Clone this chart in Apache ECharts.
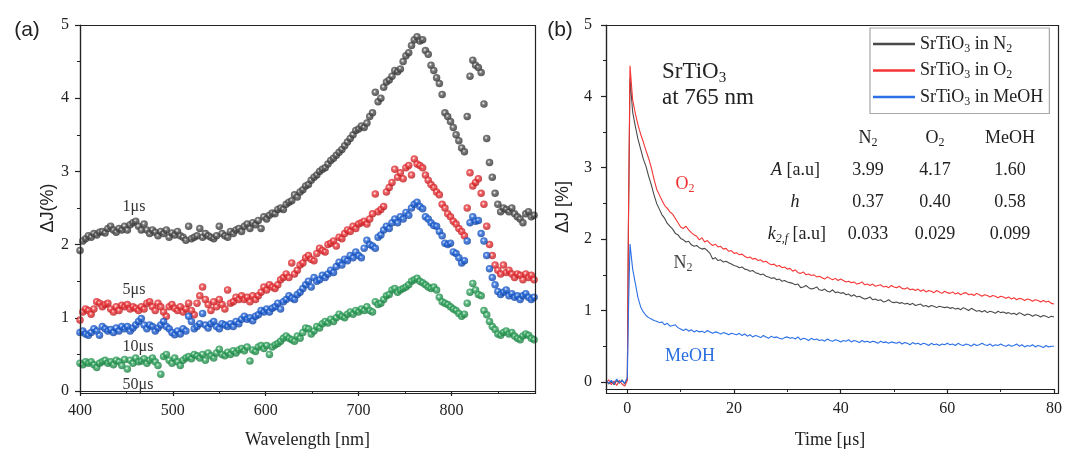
<!DOCTYPE html>
<html>
<head>
<meta charset="utf-8">
<script src="https://cdn.jsdelivr.net/npm/echarts@6/dist/echarts.min.js"></script>
<style>html,body{margin:0;padding:0;background:#fff}#c{width:1065px;height:454px}</style>
</head>
<body>
<div id="c"></div>
<script>
// ---------- Panel (a): transient absorption spectra ----------
const wavelength = [400,403,406,409,412,415,418,421,424,427,430,433,436,439,442,445,448,451,454,457,
460,463,466,469,472,475,478,481,484,487,490,493,496,499,502,505,508,511,514,517,
520,523,526,529,532,535,538,541,544,547,550,553,556,559,562,565,568,571,574,577,
580,583,586,589,592,595,598,601,604,607,610,613,616,619,622,625,628,631,634,637,
640,643,646,649,652,655,658,661,664,667,670,673,676,679,682,685,688,691,694,697,
700,703,706,709,712,715,718,721,724,727,730,733,736,739,742,745,748,751,754,757,
760,763,766,769,772,775,778,781,784,787,790,793,796,799,802,805,808,811,814,817,
820,823,826,829,832,835,838,841,844,847,850,853,856,859,862,865,868,871,874,877,
880,883,886,889];
const spec1us = [1.92,2.05,2.08,2.12,2.10,2.15,2.13,2.17,2.18,2.16,2.22,2.25,2.20,2.17,2.22,2.20,2.25,2.20,2.27,2.30,
2.32,2.25,2.20,2.28,2.20,2.15,2.20,2.17,2.12,2.18,2.15,2.20,2.10,2.16,2.13,2.18,2.12,2.10,2.06,2.25,
2.08,2.10,2.12,2.22,2.10,2.15,2.12,2.10,2.08,2.12,2.25,2.15,2.12,2.10,2.18,2.15,2.20,2.22,2.18,2.25,
2.28,2.22,2.30,2.27,2.33,2.22,2.38,2.35,2.40,2.43,2.42,2.48,2.50,2.48,2.55,2.58,2.60,2.68,2.65,2.72,
2.75,2.80,2.82,2.88,2.92,2.95,3.00,3.03,3.05,3.10,3.15,3.18,3.22,3.26,3.30,3.35,3.40,3.45,3.50,3.56,
3.58,3.62,3.60,3.66,3.75,3.80,4.08,3.95,4.00,4.15,4.22,4.25,4.30,4.38,4.36,4.40,4.50,4.58,4.62,4.72,
4.80,4.84,4.78,4.80,4.65,4.60,4.45,4.38,4.28,4.20,4.05,3.80,3.75,3.68,3.60,3.50,3.42,3.32,3.27,3.75,
4.30,4.52,4.45,4.42,4.35,3.92,3.45,3.12,2.92,2.70,2.55,2.45,2.50,2.48,2.45,2.50,2.42,2.38,2.35,2.30,
2.42,2.45,2.38,2.40];
const spec5us = [0.97,1.08,1.12,1.10,1.05,1.12,1.22,1.20,1.15,1.18,1.20,1.12,1.08,1.15,1.10,1.17,1.15,1.18,1.12,1.15,
1.13,1.10,1.15,1.12,1.20,1.22,1.15,1.10,1.20,1.15,1.08,1.02,1.15,1.18,1.13,1.10,1.15,1.08,1.12,1.20,
1.10,1.04,1.20,1.30,1.42,1.25,1.18,1.10,1.22,1.15,1.25,1.18,1.12,1.38,1.20,1.22,1.28,1.25,1.30,1.25,
1.28,1.22,1.30,1.25,1.30,1.35,1.42,1.38,1.45,1.42,1.40,1.45,1.52,1.55,1.60,1.55,1.75,1.60,1.65,1.72,
1.75,1.82,1.85,1.80,1.78,1.88,1.95,1.92,1.90,2.00,2.02,2.05,1.98,2.10,2.08,2.15,2.20,2.18,2.25,2.22,
2.28,2.30,2.32,2.28,2.35,2.42,2.69,2.45,2.48,2.52,2.72,2.78,2.85,3.03,2.92,2.98,2.90,3.05,3.08,2.95,
3.17,3.10,3.08,3.05,2.95,2.88,2.82,2.78,2.72,2.68,2.55,2.50,2.42,2.38,2.32,2.28,2.22,2.18,2.12,2.50,
2.98,2.80,2.85,2.90,2.70,2.55,2.25,2.00,1.85,1.72,1.65,1.60,1.72,1.62,1.65,1.60,1.55,1.60,1.58,1.52,
1.60,1.55,1.58,1.52];
const spec10us = [0.80,0.82,0.78,0.76,0.80,0.85,0.82,0.76,0.88,0.85,0.82,0.84,0.80,0.86,0.82,0.88,0.85,0.88,0.82,0.86,
0.90,0.95,0.99,0.90,0.85,0.90,0.88,0.82,0.86,0.90,0.95,0.88,0.85,0.80,0.77,0.82,0.78,0.85,0.82,1.02,
0.95,0.85,0.88,0.92,1.06,0.90,0.86,0.92,0.95,0.88,0.85,0.92,0.90,0.88,0.92,0.88,0.95,0.92,0.98,1.02,
0.98,1.00,0.96,1.02,1.04,1.10,1.08,1.12,1.08,1.13,1.15,1.20,1.12,1.22,1.25,1.30,1.27,1.25,1.32,1.35,
1.40,1.45,1.50,1.42,1.55,1.50,1.52,1.58,1.55,1.60,1.65,1.62,1.70,1.76,1.72,1.80,1.78,1.85,1.82,1.90,
1.85,1.82,1.95,2.06,2.00,1.98,1.95,2.10,2.13,2.20,2.25,2.22,2.30,2.35,2.30,2.38,2.35,2.44,2.40,2.50,
2.55,2.58,2.52,2.49,2.38,2.35,2.30,2.26,2.25,2.18,2.12,2.02,2.00,2.02,1.90,1.88,1.82,1.75,1.78,2.05,
2.30,2.38,2.32,2.33,2.15,2.05,1.85,1.67,1.55,1.45,1.36,1.32,1.35,1.38,1.30,1.33,1.28,1.30,1.25,1.30,
1.33,1.28,1.25,1.28];
const spec50us = [0.38,0.36,0.40,0.38,0.40,0.36,0.32,0.38,0.40,0.42,0.38,0.40,0.36,0.42,0.40,0.35,0.43,0.30,0.42,0.38,
0.45,0.40,0.41,0.44,0.38,0.42,0.45,0.40,0.35,0.23,0.47,0.50,0.42,0.38,0.45,0.40,0.35,0.42,0.45,0.47,
0.44,0.50,0.48,0.45,0.50,0.42,0.52,0.48,0.45,0.52,0.57,0.50,0.48,0.53,0.50,0.55,0.52,0.56,0.58,0.55,
0.60,0.41,0.56,0.54,0.60,0.62,0.58,0.62,0.50,0.60,0.63,0.65,0.68,0.72,0.75,0.72,0.70,0.68,0.75,0.72,
0.80,0.86,0.85,0.78,0.82,0.88,0.86,0.92,0.95,0.93,0.98,0.95,1.00,1.05,1.02,1.00,1.05,1.08,1.05,1.10,
1.08,1.12,1.10,1.15,1.10,1.08,1.22,1.18,1.20,1.25,1.30,1.32,1.38,1.40,1.35,1.38,1.40,1.42,1.45,1.50,
1.52,1.54,1.50,1.48,1.45,1.42,1.40,1.42,1.38,1.28,1.22,1.20,1.18,1.15,1.12,1.10,1.06,1.02,1.05,1.20,
1.35,1.47,1.38,1.32,1.30,1.10,1.04,0.95,0.88,0.84,0.78,0.76,0.80,0.82,0.78,0.80,0.75,0.72,0.70,0.75,
0.78,0.76,0.72,0.70];
const wlTicks = [400,500,600,700,800];
const wlMinor = [450,550,650,750,850];

// ---------- Panel (b): kinetics at 765 nm ----------
const time = [-4,-3.5,-3,-2.5,-2,-1.5,-1,-0.5,0,0.2,0.5,
1,1.5,2,2.5,3,3.5,4,4.5,5,5.5,6,6.5,7,7.5,8,8.5,9,9.5,10,
10.5,11,11.5,12,12.5,13,13.5,14,14.5,15,15.5,16,16.5,17,17.5,18,18.5,19,19.5,20,
20.5,21,21.5,22,22.5,23,23.5,24,24.5,25,25.5,26,26.5,27,27.5,28,28.5,29,29.5,30,
30.5,31,31.5,32,32.5,33,33.5,34,34.5,35,35.5,36,36.5,37,37.5,38,38.5,39,39.5,40,
40.5,41,41.5,42,42.5,43,43.5,44,44.5,45,45.5,46,46.5,47,47.5,48,48.5,49,49.5,50,
50.5,51,51.5,52,52.5,53,53.5,54,54.5,55,55.5,56,56.5,57,57.5,58,58.5,59,59.5,60,
60.5,61,61.5,62,62.5,63,63.5,64,64.5,65,65.5,66,66.5,67,67.5,68,68.5,69,69.5,70,
70.5,71,71.5,72,72.5,73,73.5,74,74.5,75,75.5,76,76.5,77,77.5,78,78.5,79,79.5,80];
const kinN2 = [0.02,-0.03,0.01,-0.04,0.02,-0.02,0.03,-0.03,0.04,2.1,4.25,
3.78,3.58,3.4,3.26,3.12,3.02,2.88,2.76,2.62,2.5,2.42,2.34,2.29,2.22,2.18,2.14,2.08,2.06,2.01,
1.99,1.96,1.97,1.92,1.9,1.91,1.88,1.86,1.87,1.84,1.8,1.72,1.74,1.7,1.71,1.68,1.69,1.67,1.65,1.63,
1.62,1.6,1.61,1.58,1.57,1.55,1.56,1.53,1.52,1.5,1.51,1.48,1.47,1.45,1.46,1.43,1.44,1.41,1.42,1.4,
1.39,1.38,1.36,1.37,1.32,1.33,1.35,1.32,1.3,1.31,1.33,1.29,1.28,1.3,1.27,1.26,1.29,1.25,1.26,1.24,
1.25,1.22,1.23,1.2,1.22,1.19,1.2,1.18,1.16,1.17,1.19,1.15,1.16,1.14,1.15,1.12,1.13,1.15,1.12,1.11,
1.12,1.1,1.11,1.09,1.1,1.08,1.1,1.07,1.08,1.09,1.06,1.07,1.05,1.07,1.06,1.04,1.06,1.05,1.04,1.05,
1.03,1.04,1.02,1.03,1.01,1.04,1.02,1.0,1.03,1.01,0.99,1.0,0.98,1.0,0.97,0.99,0.98,0.96,0.99,0.97,
0.98,0.96,0.97,0.95,0.96,0.94,0.97,0.95,0.93,0.95,0.94,0.92,0.94,0.93,0.91,0.93,0.92,0.9,0.92,0.91];
const kinO2 = [-0.02,0.03,-0.04,0.01,-0.05,0.02,-0.03,-0.06,0.02,2.2,4.43,
3.95,3.76,3.6,3.47,3.36,3.24,3.13,3.0,2.84,2.7,2.62,2.54,2.47,2.43,2.38,2.35,2.29,2.23,2.17,
2.15,2.18,2.13,2.09,2.06,2.04,1.99,2.02,1.96,1.98,1.94,1.91,1.93,1.89,1.9,1.86,1.87,1.83,1.84,1.8,
1.81,1.78,1.79,1.76,1.74,1.75,1.72,1.73,1.7,1.71,1.68,1.69,1.66,1.64,1.65,1.62,1.63,1.6,1.61,1.58,
1.59,1.55,1.57,1.53,1.52,1.54,1.5,1.51,1.49,1.5,1.47,1.48,1.46,1.44,1.47,1.45,1.43,1.45,1.42,1.44,
1.42,1.4,1.41,1.39,1.4,1.37,1.38,1.4,1.36,1.37,1.35,1.37,1.34,1.35,1.36,1.33,1.34,1.32,1.35,1.33,
1.32,1.34,1.31,1.3,1.32,1.29,1.3,1.28,1.3,1.27,1.29,1.26,1.28,1.27,1.25,1.28,1.26,1.24,1.27,1.25,
1.24,1.26,1.23,1.25,1.22,1.24,1.25,1.22,1.23,1.21,1.24,1.22,1.2,1.22,1.21,1.19,1.21,1.2,1.18,1.2,
1.19,1.17,1.19,1.16,1.18,1.15,1.17,1.16,1.14,1.16,1.15,1.13,1.15,1.14,1.12,1.14,1.12,1.13,1.1,1.09];
const kinMeOH = [0.03,-0.02,0.02,-0.03,0.04,-0.01,0.02,-0.02,0.06,0.95,1.93,
1.58,1.38,1.18,1.05,0.98,0.93,0.9,0.88,0.86,0.85,0.83,0.84,0.8,0.82,0.78,0.79,0.8,0.76,0.74,
0.72,0.74,0.71,0.73,0.7,0.72,0.7,0.71,0.69,0.72,0.7,0.68,0.7,0.69,0.67,0.69,0.68,0.66,0.68,0.67,
0.66,0.68,0.65,0.67,0.64,0.66,0.63,0.65,0.64,0.62,0.65,0.63,0.61,0.64,0.62,0.63,0.61,0.6,0.62,0.63,
0.61,0.62,0.6,0.63,0.59,0.61,0.6,0.58,0.61,0.59,0.6,0.58,0.59,0.57,0.6,0.58,0.57,0.59,0.58,0.56,
0.58,0.57,0.59,0.56,0.58,0.57,0.55,0.58,0.56,0.57,0.55,0.57,0.56,0.54,0.57,0.55,0.56,0.54,0.56,0.55,
0.54,0.56,0.53,0.55,0.54,0.52,0.55,0.53,0.54,0.52,0.54,0.53,0.51,0.54,0.52,0.53,0.51,0.53,0.52,0.54,
0.52,0.53,0.51,0.54,0.52,0.51,0.53,0.52,0.5,0.53,0.51,0.52,0.54,0.52,0.51,0.53,0.5,0.52,0.51,0.53,
0.51,0.5,0.52,0.5,0.51,0.53,0.5,0.52,0.49,0.51,0.5,0.52,0.49,0.51,0.5,0.48,0.51,0.49,0.5,0.5];
const timeTicks = [0,20,40,60,80];
const timeMinor = [10,30,50,70];
const yTicksB = [0,1,2,3,4,5];
const yMinorB = [0.5,1.5,2.5,3.5,4.5];

// fit table
const tableCols = ['N{s|2}','O{s|2}','MeOH'];
const tableRows = ['{i|A} [a.u]','{i|h}','{i|k}{si|2,f} [a.u]'];
const tableVals = [['3.99','4.17','1.60'],['0.37','0.40','0.58'],['0.033','0.029','0.099']];

const SERIF = 'Liberation Serif';
const SANS = 'Liberation Sans';
const AX = '#222';

const pairs = (xs, ys) => xs.map((x, i) => [x, ys[i]]);
function ball(c, dark) {
  return {type:'radial', x:0.42, y:0.4, r:0.6,
    colorStops:[{offset:0,color:'#ffffff'},{offset:0.35,color:c},{offset:1,color:dark}]};
}
const subRich = {
  s:{fontFamily:SERIF, fontSize:12, fill:'#222', padding:[9,0,0,0]},
  i:{fontFamily:SERIF, fontSize:18, fill:'#222', fontStyle:'italic'},
  si:{fontFamily:SERIF, fontStyle:'italic', fontSize:12, fill:'#222', padding:[9,0,0,0]}
};

function axisBase(extra) {
  return Object.assign({
    type:'value',
    axisLine:{show:true, onZero:false, lineStyle:{color:AX, width:1.2}},
    splitLine:{show:false},
    axisLabel:{fontFamily:SERIF, fontSize:16, color:AX},
    axisTick:{show:true, length:5, lineStyle:{color:AX, width:1.2}}
  }, extra);
}
function minorAxis(extra, vals) {
  return Object.assign({
    type:'value',
    axisLine:{show:false, onZero:false},
    splitLine:{show:false},
    axisLabel:{show:false},
    axisTick:{show:true, length:3, lineStyle:{color:AX, width:1}, customValues:vals}
  }, extra);
}

const chart = echarts.init(document.getElementById('c'), null, {renderer:'canvas'});

// plot frames (the boxes around both panels)
const gridA = {left:80, top:25, width:455, height:368};
const gridB = {left:606, top:25, width:452, height:368};
const graphics = [gridA, gridB].map(g => ({
  type:'rect', z:90, silent:true,
  shape:{x:g.left + 0.5, y:g.top + 0.5, width:g.width, height:g.height},
  style:{fill:'none', stroke:AX, lineWidth:1.2}
}));
function txt(x, y, text, opt) {
  graphics.push({type:'text', x:x, y:y, z:100, style:Object.assign({
    text:text, fill:'#222', font:'16px ' + SERIF, textAlign:'center', textVerticalAlign:'middle'
  }, opt || {})});
}
txt(27, 30, '(a)', {font:'21px ' + SANS});
txt(560, 30, '(b)', {font:'21px ' + SANS});
txt(134, 207, '1μs', {fill:'#333'});
txt(134, 290, '5μs', {fill:'#333'});
txt(138, 347, '10μs', {fill:'#333'});
txt(138, 385, '50μs', {fill:'#333'});
txt(662, 72, 'SrTiO{s|3}', {font:'23px ' + SERIF, textAlign:'left',
  rich:{s:{fontFamily:SERIF, fontSize:15, fill:'#222', padding:[12,0,0,0]}}});
txt(662, 98, 'at 765 nm', {font:'23px ' + SERIF, textAlign:'left'});
txt(685, 184, 'O{s|2}', {font:'18px ' + SERIF, fill:'#f03030', rich:{s:{fontFamily:SERIF, fontSize:12, fill:'#f03030', padding:[9,0,0,0]}}});
txt(683, 263, 'N{s|2}', {font:'18px ' + SERIF, fill:'#444', rich:{s:{fontFamily:SERIF, fontSize:12, fill:'#444', padding:[9,0,0,0]}}});
txt(690, 356, 'MeOH', {font:'18px ' + SERIF, fill:'#2a6fe0'});
const colX = [868, 935, 1010];
const rowY = [170, 202, 234];
tableCols.forEach((c, j) => txt(colX[j], 138, c, {font:'18px ' + SERIF, rich:subRich}));
txt(820, rowY[0], tableRows[0], {font:'18px ' + SERIF, textAlign:'right', rich:subRich});
txt(795, rowY[1], tableRows[1], {font:'18px ' + SERIF, rich:subRich});
txt(826, rowY[2], tableRows[2], {font:'18px ' + SERIF, textAlign:'right', rich:subRich});
tableVals.forEach((r, i) => r.forEach((v, j) => txt(colX[j], rowY[i], v, {font:'18px ' + SERIF})));

const legendNames = {'N2':'SrTiO{s|3} in N{s|2}', 'O2':'SrTiO{s|3} in O{s|2}', 'MeOH':'SrTiO{s|3} in MeOH'};

const option = {
  animation:false,
  backgroundColor:'#fff',
  grid:[gridA, gridB],
  xAxis:[
    axisBase({gridIndex:0, position:'bottom', min:400, max:890,
      axisLabel:{fontFamily:SERIF, fontSize:16, color:AX, margin:12, customValues:wlTicks},
      axisTick:{show:true, length:5, lineStyle:{color:AX, width:1.2}, customValues:wlTicks},
      name:'Wavelength [nm]', nameLocation:'middle', nameGap:40,
      nameTextStyle:{fontFamily:SERIF, fontSize:18, color:AX}}),
    minorAxis({gridIndex:0, position:'bottom', min:400, max:890}, wlMinor),
    axisBase({gridIndex:1, position:'bottom', min:-4, max:80,
      axisLabel:{fontFamily:SERIF, fontSize:16, color:AX, margin:12, customValues:timeTicks},
      axisTick:{show:true, length:5, lineStyle:{color:AX, width:1.2}, customValues:timeTicks},
      name:'Time [μs]', nameLocation:'middle', nameGap:42,
      nameTextStyle:{fontFamily:SERIF, fontSize:18, color:AX}}),
    minorAxis({gridIndex:1, position:'bottom', min:-4, max:80}, timeMinor)
  ],
  yAxis:[
    axisBase({gridIndex:0, position:'left', min:0, max:5, interval:1,
      axisLabel:{fontFamily:SERIF, fontSize:16, color:AX, margin:11},
      minorTick:{show:true, splitNumber:2, length:3, lineStyle:{color:AX, width:1}},
      name:'ΔJ(%)', nameLocation:'middle', nameGap:17,
      nameTextStyle:{fontFamily:SANS, fontSize:18, color:AX}}),
    axisBase({gridIndex:1, position:'left', min:-0.1, max:5,
      axisLabel:{fontFamily:SERIF, fontSize:16, color:AX, margin:14, customValues:yTicksB},
      axisTick:{show:true, length:5, lineStyle:{color:AX, width:1.2}, customValues:yTicksB},
      name:'ΔJ [%]', nameLocation:'middle', nameGap:34,
      nameTextStyle:{fontFamily:SANS, fontSize:18, color:AX}}),
    minorAxis({gridIndex:1, position:'left', min:-0.1, max:5}, yMinorB)
  ],
  legend:{
    data:['N2','O2','MeOH'],
    orient:'vertical', left:870, top:28,
    backgroundColor:'#fff',
    borderColor:'#a8a8a8', borderWidth:1.2, borderRadius:0,
    padding:[6,6,6,3],
    icon:'rect', itemWidth:42, itemHeight:2.5, itemGap:6,
    textStyle:{fontFamily:SERIF, fontSize:18, color:AX, lineHeight:20,
      rich:{s:{fontFamily:SERIF, fontSize:12, color:AX, padding:[9,0,0,0]}}},
    formatter:n => legendNames[n]
  },
  graphic:graphics,
  series:[
    {name:'1us', type:'scatter', xAxisIndex:0, yAxisIndex:0, symbolSize:7.5,
      itemStyle:{color:ball('#5a5a5a','#2e2e2e')}, data:pairs(wavelength, spec1us)},
    {name:'5us', type:'scatter', xAxisIndex:0, yAxisIndex:0, symbolSize:7.5,
      itemStyle:{color:ball('#ee3b40','#b8181c')}, data:pairs(wavelength, spec5us)},
    {name:'10us', type:'scatter', xAxisIndex:0, yAxisIndex:0, symbolSize:7.5,
      itemStyle:{color:ball('#2468dc','#0e3fa0')}, data:pairs(wavelength, spec10us)},
    {name:'50us', type:'scatter', xAxisIndex:0, yAxisIndex:0, symbolSize:7.5,
      itemStyle:{color:ball('#35a862','#1a7a3e')}, data:pairs(wavelength, spec50us)},
    {name:'N2', type:'line', xAxisIndex:2, yAxisIndex:1, showSymbol:false, symbol:'none',
      color:'#4a4a4a', lineStyle:{color:'#4a4a4a', width:1.1}, data:pairs(time, kinN2)},
    {name:'O2', type:'line', xAxisIndex:2, yAxisIndex:1, showSymbol:false, symbol:'none',
      color:'#f53535', lineStyle:{color:'#f53535', width:1.1}, data:pairs(time, kinO2)},
    {name:'MeOH', type:'line', xAxisIndex:2, yAxisIndex:1, showSymbol:false, symbol:'none',
      color:'#2b70e6', lineStyle:{color:'#2b70e6', width:1.1}, data:pairs(time, kinMeOH)}
  ]
};
chart.setOption(option);
</script>
</body>
</html>
